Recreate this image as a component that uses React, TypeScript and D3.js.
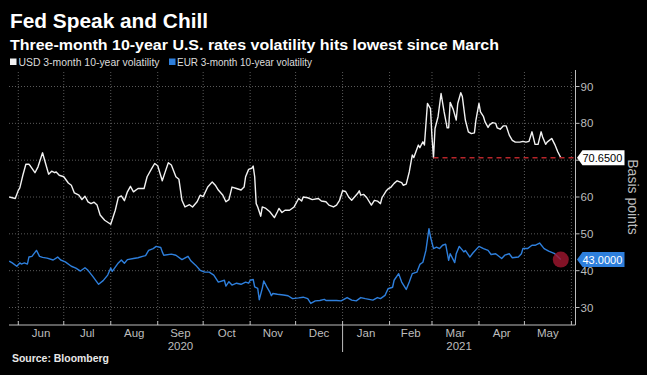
import React from "react";
import * as d3 from "d3";

const title = "Fed Speak and Chill";
const subtitle = "Three-month 10-year U.S. rates volatility hits lowest since March";
const legendLabels = ["USD 3-month 10-year volatility", "EUR 3-month 10-year volatility"];
const source = "Source: Bloomberg";
const axisTitle = "Basis points";
const yTicks = [30, 40, 50, 60, 70, 80, 90];
const yearLabels = ["2020", "2021"];

const usdDates = [
  "2020-05-26", "2020-05-30", "2020-06-01", "2020-06-02", "2020-06-04", "2020-06-06", "2020-06-08", "2020-06-09", "2020-06-12", "2020-06-14",
  "2020-06-17", "2020-06-19", "2020-06-21", "2020-06-23", "2020-06-25", "2020-06-26", "2020-06-28", "2020-07-01", "2020-07-04", "2020-07-06",
  "2020-07-08", "2020-07-11", "2020-07-13", "2020-07-15", "2020-07-17", "2020-07-19", "2020-07-21", "2020-07-23", "2020-07-25", "2020-07-28",
  "2020-08-01", "2020-08-04", "2020-08-06", "2020-08-08", "2020-08-10", "2020-08-12", "2020-08-14", "2020-08-16", "2020-08-19", "2020-08-23",
  "2020-08-25", "2020-08-28", "2020-08-30", "2020-09-01", "2020-09-04", "2020-09-06", "2020-09-08", "2020-09-10", "2020-09-13", "2020-09-15",
  "2020-09-17", "2020-09-19", "2020-09-22", "2020-09-24", "2020-09-27", "2020-09-29", "2020-10-01", "2020-10-04", "2020-10-07", "2020-10-09",
  "2020-10-11", "2020-10-14", "2020-10-16", "2020-10-18", "2020-10-20", "2020-10-23", "2020-10-26", "2020-10-28", "2020-10-29", "2020-10-31",
  "2020-11-02", "2020-11-03", "2020-11-04", "2020-11-05", "2020-11-06", "2020-11-08", "2020-11-09", "2020-11-11", "2020-11-14", "2020-11-17",
  "2020-11-19", "2020-11-20", "2020-11-22", "2020-11-24", "2020-11-27", "2020-11-30", "2020-12-03", "2020-12-05", "2020-12-06", "2020-12-09",
  "2020-12-12", "2020-12-16", "2020-12-18", "2020-12-21", "2020-12-23", "2020-12-26", "2020-12-28", "2020-12-30", "2021-01-01", "2021-01-03",
  "2021-01-05", "2021-01-07", "2021-01-11", "2021-01-12", "2021-01-13", "2021-01-15", "2021-01-17", "2021-01-20", "2021-01-22", "2021-01-24",
  "2021-01-26", "2021-01-27", "2021-01-30", "2021-01-31", "2021-02-02", "2021-02-04", "2021-02-06", "2021-02-09", "2021-02-10", "2021-02-12",
  "2021-02-14", "2021-02-16", "2021-02-17", "2021-02-20", "2021-02-21", "2021-02-23", "2021-02-24", "2021-02-26", "2021-02-28", "2021-03-01",
  "2021-03-02", "2021-03-03", "2021-03-05", "2021-03-07", "2021-03-09", "2021-03-11", "2021-03-12", "2021-03-13", "2021-03-15", "2021-03-17",
  "2021-03-18", "2021-03-20", "2021-03-21", "2021-03-23", "2021-03-25", "2021-03-27", "2021-03-29", "2021-03-30", "2021-04-01", "2021-04-02",
  "2021-04-04", "2021-04-05", "2021-04-07", "2021-04-08", "2021-04-10", "2021-04-12", "2021-04-13", "2021-04-15", "2021-04-17", "2021-04-19",
  "2021-04-21", "2021-04-23", "2021-04-25", "2021-04-28", "2021-04-30", "2021-05-02", "2021-05-04", "2021-05-06", "2021-05-08", "2021-05-10",
  "2021-05-12", "2021-05-13", "2021-05-15", "2021-05-16", "2021-05-19", "2021-05-21", "2021-05-23", "2021-05-25",
];
const usdValues = [
  60, 59.6, 61.8, 62.5, 65.9, 68.9, 68.9, 68.4, 66.6, 68.2,
  72.0, 69.1, 66.2, 67, 66.6, 66.8, 65.9, 65.5, 63.8, 63.2,
  61.1, 60.5, 59.3, 60.2, 58.7, 58.2, 58.6, 57.8, 55.1, 53.7,
  52.6, 56.4, 59.9, 60.3, 59, 61.4, 62.9, 61.4, 62.3, 62.3,
  65.5, 67.7, 69.1, 68.5, 64.4, 66.9, 69.3, 68.7, 65.5, 64.8,
  59.1, 57.3, 57.9, 57.3, 58.7, 60.5, 60.1, 62.7, 64.1, 63.2,
  61.9, 60.5, 58.7, 59.3, 62.7, 62.3, 61.9, 62.7, 65.5, 67.5,
  67.8, 68.4, 65.5, 58.2, 57.3, 54.8, 57.3, 57, 56, 54.4,
  56, 56.9, 55.8, 56.4, 56.4, 57.3, 59.6, 58.9, 60, 59.8,
  59.3, 59.6, 58.9, 58.7, 57.8, 57.3, 57.8, 59.1, 61.7, 61.5,
  60, 59.1, 61, 61.7, 60.5, 60.7, 59.8, 57.8, 59.1, 58.9,
  58.2, 59.8, 61.8, 62.2, 62.7, 63.7, 64.4, 63.9, 63.2, 63.5,
  66.8, 71.4, 70.7, 74.1, 73.4, 75, 74.1, 85.4, 84, 76.3,
  70.65, 78.6, 81.8, 88.1, 83.1, 78.8, 78.8, 85.7, 83.8, 80.9,
  85.4, 88.3, 87.3, 80.9, 77.7, 77.2, 77.4, 80.9, 85.4, 83.1,
  81.8, 80.4, 78.9, 79.6, 80.2, 80, 78.8, 78.4, 79.3, 79.3,
  76.8, 75.4, 74.9, 74.9, 75.1, 74.9, 75.1, 77.7, 74.3, 74.3,
  77.7, 76.3, 74.3, 74.9, 75.9, 74.3, 72.3, 70.65,
];

const eurDates = [
  "2020-05-26", "2020-05-28", "2020-05-31", "2020-06-02", "2020-06-03", "2020-06-05", "2020-06-07", "2020-06-08", "2020-06-10", "2020-06-13",
  "2020-06-15", "2020-06-17", "2020-06-20", "2020-06-24", "2020-06-27", "2020-06-29", "2020-07-02", "2020-07-06", "2020-07-09", "2020-07-12",
  "2020-07-15", "2020-07-17", "2020-07-20", "2020-07-24", "2020-07-27", "2020-07-30", "2020-08-01", "2020-08-02", "2020-08-06", "2020-08-08",
  "2020-08-10", "2020-08-12", "2020-08-16", "2020-08-19", "2020-08-22", "2020-08-24", "2020-08-26", "2020-08-29", "2020-08-31", "2020-09-03",
  "2020-09-04", "2020-09-05", "2020-09-10", "2020-09-13", "2020-09-17", "2020-09-21", "2020-09-23", "2020-09-26", "2020-09-29", "2020-10-02",
  "2020-10-05", "2020-10-08", "2020-10-11", "2020-10-15", "2020-10-16", "2020-10-18", "2020-10-20", "2020-10-23", "2020-10-26", "2020-10-29",
  "2020-10-31", "2020-11-01", "2020-11-03", "2020-11-04", "2020-11-06", "2020-11-07", "2020-11-09", "2020-11-10", "2020-11-12", "2020-11-14",
  "2020-11-15", "2020-11-16", "2020-11-19", "2020-11-23", "2020-11-26", "2020-11-29", "2020-12-03", "2020-12-06", "2020-12-09", "2020-12-11",
  "2020-12-14", "2020-12-17", "2020-12-20", "2020-12-21", "2020-12-25", "2020-12-28", "2020-12-31", "2021-01-04", "2021-01-07", "2021-01-10",
  "2021-01-13", "2021-01-16", "2021-01-21", "2021-01-24", "2021-01-26", "2021-01-29", "2021-01-31", "2021-02-03", "2021-02-04", "2021-02-07",
  "2021-02-09", "2021-02-12", "2021-02-14", "2021-02-16", "2021-02-19", "2021-02-21", "2021-02-23", "2021-02-25", "2021-02-27", "2021-02-28",
  "2021-03-02", "2021-03-04", "2021-03-06", "2021-03-08", "2021-03-10", "2021-03-12", "2021-03-13", "2021-03-16", "2021-03-17", "2021-03-19",
  "2021-03-22", "2021-03-23", "2021-03-26", "2021-03-28", "2021-04-01", "2021-04-04", "2021-04-07", "2021-04-09", "2021-04-12", "2021-04-16",
  "2021-04-18", "2021-04-21", "2021-04-23", "2021-04-27", "2021-04-29", "2021-04-30", "2021-05-03", "2021-05-06", "2021-05-08", "2021-05-11",
  "2021-05-14", "2021-05-17", "2021-05-21", "2021-05-25",
];
const eurValues = [
  42.6, 42.1, 41.2, 42.1, 41.8, 42.1, 41.8, 43.7, 43.9, 45.5,
  43.9, 43.6, 43.4, 42.9, 43.7, 42.9, 42.4, 41.2, 40.7, 39.9,
  40.8, 40.1, 38.5, 36.3, 37.3, 38.8, 40.7, 39.8, 42.1, 42.9,
  42, 43, 43.3, 43.5, 43.9, 44.1, 45.5, 46, 46.6, 46.3,
  45.1, 44.2, 44.5, 44.2, 43, 43.9, 42.6, 41.5, 40.1, 39.6,
  39.6, 38.8, 36.9, 37.4, 35.8, 37, 36.1, 36.6, 36.3, 36.9,
  36.6, 37.4, 37.6, 35.6, 35.2, 32.1, 35.2, 37.2, 35.6, 34.2,
  33.2, 33.8, 33.6, 33.4, 33.2, 32.4, 32.6, 32.8, 32.4, 31.1,
  31.8, 31.9, 32.2, 31.9, 31.9, 31.9, 31.8, 32.7, 32, 31.8,
  32.7, 32.4, 32, 32.7, 32.4, 33.3, 35.1, 35.5, 37.4, 39.2,
  36.9, 34.9, 36.9, 39.2, 39.6, 41.7, 42.3, 45.5, 51.4, 49.2,
  46, 46.4, 46, 46.9, 47.2, 42.8, 44.6, 42.2, 44.6, 46.6,
  45.1, 45.5, 43.7, 44.8, 46.6, 46, 45.5, 44.4, 44.6, 43.3,
  44.2, 44.6, 43.5, 43.7, 44.6, 46, 46, 46.9, 46.9, 47.5,
  46, 45.3, 44.6, 43,
];

const W = 647;
const H = 375;
const FONT = "'Liberation Sans', Arial, sans-serif";

export default function App() {
  const parse = d3.timeParse("%Y-%m-%d");
  const usd = usdDates.map((d, i) => ({ date: parse(d) as Date, value: usdValues[i] }));
  const eur = eurDates.map((d, i) => ({ date: parse(d) as Date, value: eurValues[i] }));

  const plotLeft = 9;
  const plotRight = 575.5;
  const plotTop = 72;
  const plotBottom = 325;

  const x = d3
    .scaleTime()
    .domain([new Date(2020, 5, 1), new Date(2021, 5, 1)])
    .range([18.3, 571.4]);
  const y = d3.scaleLinear().domain([25.25, 93.94]).range([plotBottom, plotTop]);

  const line = d3
    .line<{ date: Date; value: number }>()
    .x((d) => x(d.date))
    .y((d) => y(d.value));

  const monthTicks = d3.timeMonth.range(new Date(2020, 5, 1), new Date(2021, 5, 2));
  const fmtMonth = d3.timeFormat("%b");
  const yearStart = new Date(2021, 0, 1);

  const usdLast = usd[usd.length - 1];
  const eurLast = eur[eur.length - 1];
  // earlier point where USD sat at today's level (start of the dashed reference line)
  const usdSame = usd.find((d) => d.value === usdLast.value) || usdLast;

  const gridColor = "#5a5a5a";
  const axisColor = "#bdbdbd";
  const usdColor = "#f2f2f2";
  const eurColor = "#2e7fdc";

  const boxYs = [y(usdLast.value), y(eurLast.value)];
  const visibleTicks = yTicks.filter((t) => boxYs.every((by) => Math.abs(y(t) - by) > 9));

  const boxH = 15;
  const labelBox = (yy: number, fill: string, textFill: string, text: string) => {
    const x0 = plotRight + 1.5;
    const w = 47.5;
    const path = `M${x0},${yy} L${x0 + 5.5},${yy - boxH / 2} L${x0 + w},${yy - boxH / 2} L${x0 + w},${yy + boxH / 2} L${x0 + 5.5},${yy + boxH / 2} Z`;
    return (
      <g>
        <path d={path} fill={fill} />
        <text x={x0 + 5.5} y={yy + 4} fill={textFill} fontSize={11} fontFamily={FONT}>
          {text}
        </text>
      </g>
    );
  };

  return (
    <svg
      width={W}
      height={H}
      viewBox={`0 0 ${W} ${H}`}
      style={{ position: "absolute", left: 0, top: 0, background: "#000", display: "block" }}
    >
      <rect x={0} y={0} width={W} height={H} fill="#000" />
      <text x={10} y={28} fill="#fff" fontSize={21} fontWeight="bold" fontFamily={FONT} textLength={198} lengthAdjust="spacingAndGlyphs">
        {title}
      </text>
      <text x={10} y={50} fill="#fff" fontSize={14.5} fontWeight="bold" fontFamily={FONT} textLength={489} lengthAdjust="spacingAndGlyphs">
        {subtitle}
      </text>

      {/* legend */}
      <rect x={10} y={58.5} width={6.5} height={6.5} fill={usdColor} />
      <text x={18.5} y={65.5} fill="#dcdcdc" fontSize={10} fontFamily={FONT} textLength={141} lengthAdjust="spacingAndGlyphs">
        {legendLabels[0]}
      </text>
      <rect x={169} y={58.5} width={6.5} height={6.5} fill={eurColor} />
      <text x={177} y={65.5} fill="#dcdcdc" fontSize={10} fontFamily={FONT} textLength={135} lengthAdjust="spacingAndGlyphs">
        {legendLabels[1]}
      </text>

      {/* horizontal grid */}
      {yTicks.map((t) => (
        <line key={"h" + t} x1={plotLeft} x2={plotRight} y1={y(t)} y2={y(t)} stroke={gridColor} strokeWidth={1} strokeDasharray="1,2" />
      ))}
      {/* vertical grid */}
      {monthTicks.map((d) => (
        <line key={"v" + d.getTime()} x1={x(d)} x2={x(d)} y1={plotTop} y2={plotBottom} stroke={gridColor} strokeWidth={1} strokeDasharray="1,2" />
      ))}

      {/* x axis */}
      <line x1={plotLeft} x2={plotRight} y1={plotBottom} y2={plotBottom} stroke={axisColor} strokeWidth={1} />
      {monthTicks.map((d) => (
        <line key={"t" + d.getTime()} x1={x(d)} x2={x(d)} y1={plotBottom - 4} y2={plotBottom} stroke={axisColor} strokeWidth={1} />
      ))}
      {monthTicks.slice(0, -1).map((d, i) => {
        const next = monthTicks[i + 1];
        const cx = (x(d) + x(next)) / 2;
        return (
          <text key={"m" + i} x={cx} y={337} textAnchor="middle" fill={axisColor} fontSize={11.5} fontFamily={FONT}>
            {fmtMonth(d)}
          </text>
        );
      })}
      <line x1={x(yearStart)} x2={x(yearStart)} y1={plotBottom} y2={352} stroke={axisColor} strokeWidth={1} />
      <text x={(x(new Date(2020, 5, 1)) + x(yearStart)) / 2} y={350} textAnchor="middle" fill={axisColor} fontSize={11.5} fontFamily={FONT}>
        {yearLabels[0]}
      </text>
      <text x={(x(yearStart) + plotRight) / 2} y={350} textAnchor="middle" fill={axisColor} fontSize={11.5} fontFamily={FONT}>
        {yearLabels[1]}
      </text>

      {/* right axis */}
      <line x1={plotRight} x2={plotRight} y1={plotTop - 2} y2={plotBottom} stroke={axisColor} strokeWidth={1} />
      {yTicks.map((t) => (
        <line key={"ytl" + t} x1={plotRight} x2={plotRight + 4} y1={y(t)} y2={y(t)} stroke={axisColor} strokeWidth={1} />
      ))}
      {visibleTicks.map((t) => (
        <text key={"yt" + t} x={plotRight + 5} y={y(t) + 4} fill={axisColor} fontSize={11.5} fontFamily={FONT}>
          {t}
        </text>
      ))}
      <text
        transform={`translate(628, ${(y(70) + y(50)) / 2}) rotate(90)`}
        textAnchor="middle"
        fill={axisColor}
        fontSize={14}
        fontFamily={FONT}
      >
        {axisTitle}
      </text>

      {/* lines */}
      <path d={line(eur) || ""} fill="none" stroke={eurColor} strokeWidth={1.4} strokeLinejoin="round" />
      <path d={line(usd) || ""} fill="none" stroke={usdColor} strokeWidth={1.4} strokeLinejoin="round" />

      {/* level reference */}
      <line
        x1={x(usdSame.date)}
        x2={plotRight}
        y1={y(usdLast.value)}
        y2={y(usdLast.value)}
        stroke="#b8262b"
        strokeWidth={1.4}
        strokeDasharray="5,4"
      />

      {/* end marker on EUR */}
      <circle cx={x(eurLast.date)} cy={y(eurLast.value)} r={8} fill="#a3162f" fillOpacity={0.8} />

      {labelBox(y(usdLast.value), "#ffffff", "#000", usdLast.value.toFixed(4))}
      {labelBox(y(eurLast.value), eurColor, "#fff", eurLast.value.toFixed(4))}

      <text x={12} y={362} fill="#e8e8e8" fontSize={10} fontWeight="bold" fontFamily={FONT} textLength={97} lengthAdjust="spacingAndGlyphs">
        {source}
      </text>
    </svg>
  );
}
